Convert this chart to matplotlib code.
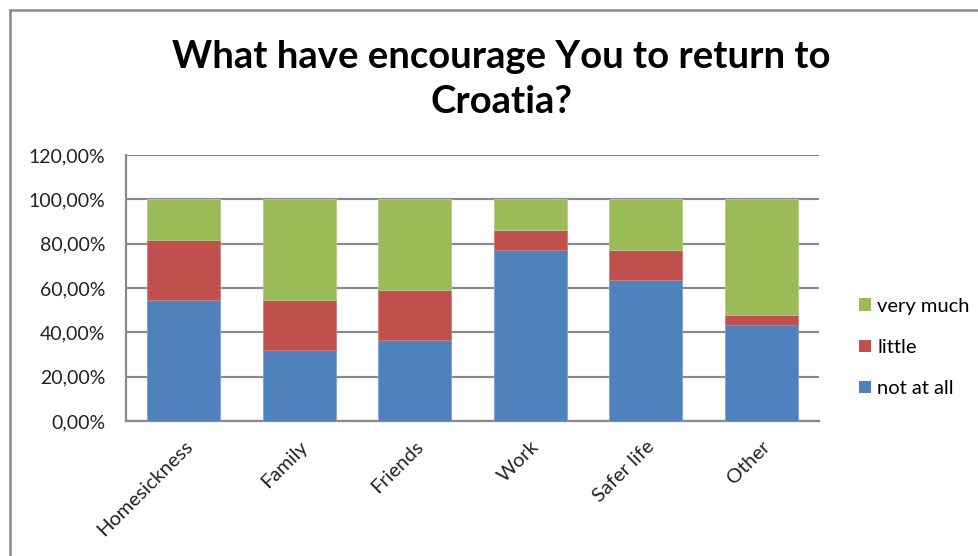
import numpy as np
import matplotlib
matplotlib.use('Agg')
import matplotlib.pyplot as plt
from matplotlib.lines import Line2D
from matplotlib.patches import Patch

# survey answers, share of respondents (%)
categories = ['Homesickness', 'Family', 'Friends', 'Work', 'Safer life', 'Other']
not_at_all = [54.55, 31.82, 36.36, 77.27, 63.64, 43.48]
little = [27.27, 22.73, 22.73, 9.09, 13.64, 4.35]
very_much = [18.18, 45.45, 40.91, 13.64, 22.72, 52.17]

y_ticks = [0, 20, 40, 60, 80, 100, 120]

blue = '#4F81BD'
red = '#C0504D'
green = '#9BBB59'
grid_gray = '#8A8A8A'

plt.rcParams['font.family'] = ['Lato', 'DejaVu Sans']

fig = plt.figure(figsize=(9.79, 5.56), dpi=100)
ax = fig.add_axes([0.1287, 0.2428, 0.7079, 0.4784])

x = np.arange(len(categories))
width = 0.63
base2 = np.array(not_at_all)
base3 = base2 + np.array(little)

ax.bar(x, not_at_all, width, color=blue, edgecolor='#7FA1CC', linewidth=0.6, zorder=3)
ax.bar(x, little, width, bottom=base2, color=red, edgecolor='#CC7C7A', linewidth=0.6, zorder=3)
ax.bar(x, very_much, width, bottom=base3, color=green, edgecolor='#B3CB88', linewidth=0.6, zorder=3)

ax.set_xlim(-0.5, len(categories) - 0.5)
ax.set_ylim(0, 120)
ax.set_yticks(y_ticks)
ax.set_yticklabels([f'{v:.2f}%'.replace('.', ',') for v in y_ticks], fontsize=14, color='#222222')
ax.yaxis.grid(True, color=grid_gray, linewidth=1.6, zorder=0)
ax.tick_params(axis='y', length=0, pad=15)

ax.set_xticks(x)
ax.set_xticklabels(categories, rotation=45, ha='right', rotation_mode='anchor',
                   fontsize=14.5, color='#222222')
ax.tick_params(axis='x', length=0, pad=12)

for side in ['top', 'right']:
    ax.spines[side].set_visible(False)
for side in ['left', 'bottom']:
    ax.spines[side].set_color(grid_gray)
    ax.spines[side].set_linewidth(1.6)

fig.text(0.512, 0.878, 'What have encourage You to return to', ha='center', va='baseline',
         fontsize=27.5, weight='bold')
fig.text(0.512, 0.797, 'Croatia?', ha='center', va='baseline', fontsize=27.5, weight='bold')

handles = [Patch(facecolor=green), Patch(facecolor=red), Patch(facecolor=blue)]
fig.legend(handles, ['very much', 'little', 'not at all'], loc='center left',
           bbox_to_anchor=(0.859, 0.375), frameon=False, fontsize=14.5,
           handlelength=0.6, handleheight=0.6, handletextpad=0.3, labelspacing=1.2)

# chart area border (top and left edges)
fig.add_artist(Line2D([0.0107, 0.0107], [0, 0.982], color='#8C8C8C', linewidth=1.8,
                      transform=fig.transFigure))
fig.add_artist(Line2D([0.0107, 1.0], [0.982, 0.982], color='#8C8C8C', linewidth=1.8,
                      transform=fig.transFigure))

fig.savefig('out.png', dpi=100)
